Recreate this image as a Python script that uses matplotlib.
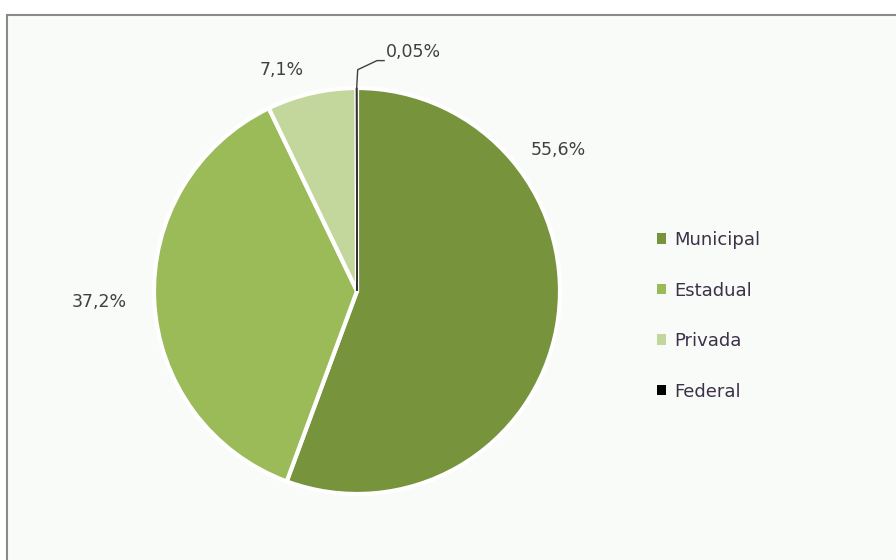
import numpy as np
import matplotlib.pyplot as plt
from matplotlib.patches import Rectangle

plt.rcParams["font.family"] = ["DejaVu Sans"]

categories = ["Municipal", "Estadual", "Privada", "Federal"]
shares = [55.6, 37.2, 7.1, 0.05]
labels = ["55,6%", "37,2%", "7,1%", "0,05%"]
colors = ["#77933c", "#9bbb59", "#c3d69b", "#000000"]

W, H, DPI = 896, 560, 100
cx, cy, r = 357, 291, 203  # pie centre and radius in pixels

# where each percentage label sits: angle (deg) and distance in radii
label_pos = [(35, 1.21), (182.5, 1.27), (108.8, 1.15)]

fig = plt.figure(figsize=(W / DPI, H / DPI), dpi=DPI)
fig.patch.set_facecolor("white")

# chart area frame, cut off on the right and bottom
fig.patches.append(Rectangle((7 / W, -0.05), 1.0, (H - 15) / H + 0.05,
                             transform=fig.transFigure, facecolor="#f9fbf8",
                             edgecolor="#8a8a8a", linewidth=1.5, zorder=-5))

ax = fig.add_axes([(cx - r) / W, (H - cy - r) / H, 2 * r / W, 2 * r / H])
ax.set_facecolor("none")
wedges, _ = ax.pie(shares, colors=colors, startangle=90, counterclock=False,
                   wedgeprops=dict(edgecolor="white", linewidth=3))
wedges[3].set_edgecolor("#333333")
wedges[3].set_linewidth(1)
ax.set_xlim(-1, 1)
ax.set_ylim(-1, 1)
ax.set_aspect("equal")
ax.axis("off")

txt = dict(fontsize=12.5, color="#404040", ha="center", va="center")
for lab, (deg, rr) in zip(labels, label_pos):
    a = np.deg2rad(deg)
    ax.text(rr * np.cos(a), rr * np.sin(a), lab, **txt)

# leader line for the tiny Federal slice
a = np.deg2rad((wedges[3].theta1 + wedges[3].theta2) / 2)
x0, y0 = np.cos(a), np.sin(a)
pts = np.array([[x0, y0], [x0 + 0.005, 1.09], [x0 + 0.10, 1.135],
                [x0 + 0.135, 1.135]])
ax.plot(pts[:, 0], pts[:, 1], color="#404040", lw=1, clip_on=False)
ax.text(pts[-1, 0] + 0.01, 1.175, labels[3], fontsize=12.5, color="#404040",
        ha="left", va="center")

handles = [Rectangle((0, 0), 1, 1, facecolor=c) for c in colors]
leg = fig.legend(handles, categories, loc="upper left",
                 bbox_to_anchor=(648 / W, (H - 222) / H), frameon=False,
                 fontsize=13, handlelength=0.52, handleheight=0.52,
                 handletextpad=0.45, labelspacing=1.8, borderpad=0)
for t in leg.get_texts():
    t.set_color("#3d3148")

fig.savefig("out.png", dpi=DPI, facecolor=fig.get_facecolor())
